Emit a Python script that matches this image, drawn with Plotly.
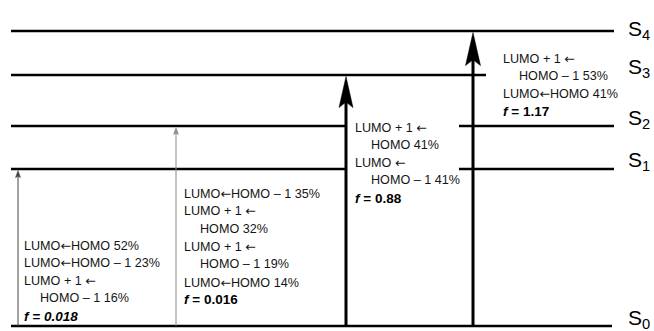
import plotly.graph_objects as go

# Singlet excited-state diagram: levels, vertical excitations and their main configurations
states = ["S<sub>0</sub>", "S<sub>1</sub>", "S<sub>2</sub>", "S<sub>3</sub>", "S<sub>4</sub>"]
level_height = [0, 157, 200, 251, 295]          # schematic energies (arbitrary units)

transition_target = [1, 2, 3, 4]                 # index of the excited state reached
osc_strength = ["0.018", "0.016", "0.88", "1.17"]

config_lines = [
    [("LUMO←HOMO 52%", 0), ("LUMO←HOMO – 1 23%", 0), ("LUMO + 1 ←", 0), ("HOMO – 1 16%", 1)],
    [("LUMO←HOMO – 1 35%", 0), ("LUMO + 1 ←", 0), ("HOMO 32%", 1), ("LUMO + 1 ←", 0),
     ("HOMO – 1 19%", 1), ("LUMO←HOMO 14%", 0)],
    [("LUMO + 1 ←", 0), ("HOMO 41%", 1), ("LUMO ←", 0), ("HOMO – 1 41%", 1)],
    [("LUMO + 1 ←", 0), ("HOMO – 1 53%", 1), ("LUMO←HOMO 41%", 0)],
]

# ---- layout constants -------------------------------------------------------
X0, X1 = 11, 614
arrow_x = [18, 176, 346, 473]
arrow_style = [  # (colour, shaft width, head width, head length)
    ("#444444", 1.0, 5, 7),
    ("#8a8a8a", 1.0, 5, 7),
    ("#000000", 3.0, 14, 31),
    ("#000000", 3.0, 15, 33),
]
# each level line may be interrupted where a text block sits on it
level_segments = [
    [(X0, X1 - 2)],
    [(X0, 347), (459, X1)],
    [(X0, 347), (459, X1)],
    [(X0, 486)],
    [(X0, X1)],
]
label_shift = [7, 8, 7, 7, 1]
block_x = [22, 182, 353, 501]
block_top = [81, 133, 199, 268]
LINE_STEP = 17.8
INDENT = 16
FONT = "Liberation Sans, Arial, sans-serif"
TXT = "#151515"
ARROW = '<span style="font-family:DejaVu Sans">←</span>'

fig = go.Figure()
shapes = []
annotations = []

for y, segs in zip(level_height, level_segments):
    for a, b in segs:
        shapes.append(dict(type="line", xref="x", yref="y", x0=a, x1=b, y0=y, y1=y,
                           line=dict(color="#000000", width=2.6)))

for i, (name, y) in enumerate(zip(states, level_height)):
    annotations.append(dict(x=626, y=y + label_shift[i], xref="x", yref="y", text=name,
                            showarrow=False, xanchor="left", yanchor="middle",
                            font=dict(family=FONT, size=21, color="#000000")))

for k, tgt in enumerate(transition_target):
    x = arrow_x[k]
    col, lw, hw, hl = arrow_style[k]
    tip = level_height[tgt] - 1.6
    base = level_height[0]
    shapes.append(dict(type="line", xref="x", yref="y", x0=x, x1=x, y0=base, y1=tip - hl * 0.6,
                       line=dict(color=col, width=lw)))
    notch = tip - hl * 0.82
    path = (f"M {x} {tip} L {x + hw / 2} {tip - hl} L {x} {notch} "
            f"L {x - hw / 2} {tip - hl} Z")
    shapes.append(dict(type="path", xref="x", yref="y", path=path,
                       fillcolor=col, line=dict(color=col, width=0.5)))

for k, lines in enumerate(config_lines):
    y = block_top[k]
    for text, ind in lines:
        annotations.append(dict(x=block_x[k] + ind * INDENT, y=y, xref="x", yref="y",
                                text=text.replace("←", ARROW), showarrow=False,
                                xanchor="left", yanchor="middle",
                                font=dict(family=FONT, size=12.6, color=TXT)))
        y -= LINE_STEP
    if k == 0:
        ftxt = f"<b><i>f = {osc_strength[k]}</i></b>"
    else:
        ftxt = f"<b><i>f</i> = {osc_strength[k]}</b>"
    annotations.append(dict(x=block_x[k], y=y, xref="x", yref="y", text=ftxt,
                            showarrow=False, xanchor="left", yanchor="middle",
                            font=dict(family=FONT, size=13.5, color="#000000")))

fig.update_layout(
    width=654, height=331, margin=dict(l=0, r=0, t=0, b=0),
    paper_bgcolor="white", plot_bgcolor="white",
    xaxis=dict(range=[0, 654], visible=False, fixedrange=True),
    yaxis=dict(range=[-5, 326], visible=False, fixedrange=True),
    shapes=shapes, annotations=annotations, showlegend=False,
)

fig.write_html("out.html")
